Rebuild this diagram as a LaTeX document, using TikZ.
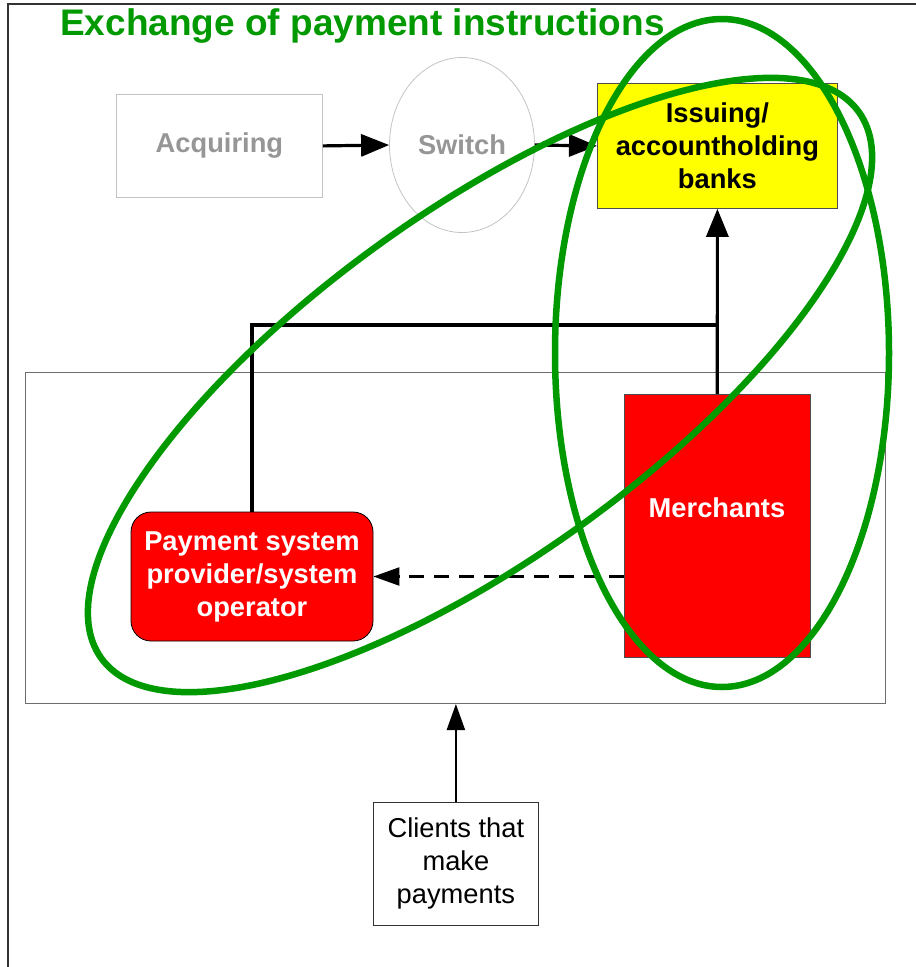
\documentclass[tikz,border=0pt]{standalone}
\usepackage{fontspec}
\setmainfont{Liberation Sans}
\usetikzlibrary{shapes.geometric,arrows.meta}
\definecolor{ringgreen}{RGB}{0,153,0}
\definecolor{dimtext}{RGB}{150,150,150}
\definecolor{dimline}{RGB}{195,195,195}
\definecolor{boxline}{RGB}{110,110,110}
\definecolor{pureyellow}{RGB}{255,255,0}
\definecolor{purered}{RGB}{255,0,0}
\begin{document}
\begin{tikzpicture}[x=1pt,y=-1pt,
  lbl/.style={font=\fontsize{27.3}{33}\selectfont\bfseries, align=center},
  plainlbl/.style={font=\fontsize{27.3}{33}\selectfont, align=center},
  boxnode/.style={draw, inner sep=0pt, anchor=north west},
  bigarrow/.style={line width=3.2pt, -{Triangle[length=28pt,width=22pt]}},
  thinarrow/.style={line width=2.2pt, -{Triangle[length=26pt,width=18pt]}},
  ring/.style={draw=ringgreen, line width=6.5pt}]
\useasboundingbox (0,0) rectangle (916,967);
% outer frame
\draw[line width=1.5pt, draw=black!80] (8,1000) -- (8,4) -- (940,4);
% title
\node[anchor=base west, inner sep=0pt, text=ringgreen, font=\fontsize{37}{42}\selectfont\bfseries] (title) at (60,35) {Exchange of payment instructions};
% top row
\node[boxnode, draw=dimline, line width=0.8pt, minimum width=206pt, minimum height=103pt, text=dimtext, lbl] (acq) at (116,94) {Acquiring};
\node[draw=dimline, line width=0.8pt, ellipse, inner sep=0pt, minimum width=145pt, minimum height=175pt, text=dimtext, lbl] (sw) at (462,145) {Switch};
\node[boxnode, draw=black!70, line width=0.8pt, fill=pureyellow, minimum width=240pt, minimum height=125pt, lbl] (iss) at (597,83) {Issuing/\\accountholding\\banks};
% big container
\node[boxnode, draw=boxline, line width=1pt, minimum width=860pt, minimum height=331pt] (cont) at (25,372) {};
% merchants and provider
\node[boxnode, draw=black!70, line width=0.6pt, fill=purered, minimum width=186pt, minimum height=263pt] (merch) at (624,394) {};
\node[lbl, text=white, inner sep=0pt] (merchtxt) at (717,508) {Merchants};
\node[draw=black, line width=0.8pt, fill=purered, rounded corners=20pt, inner sep=0pt, minimum width=242pt, minimum height=129pt, text=white, lbl] (pay) at (252,576.5) {Payment system\\provider/system\\operator};
% clients
\node[boxnode, draw=black!80, line width=0.8pt, minimum width=165pt, minimum height=123pt, plainlbl] (cli) at (373,802) {Clients that\\make\\payments};
% connectors
\draw[bigarrow] (acq.east) -- (sw.west);
\draw[bigarrow] (sw.east) -- (iss.west);
\coordinate (join) at (717,325);
\draw[line width=3.2pt] (pay.north) |- (join);
\draw[bigarrow] (merch.north) -- (iss.south);
\draw[thinarrow, dash pattern=on 15pt off 10pt] (merch.west |- pay.east) -- (pay.east);
\draw[thinarrow] (cli.north) -- (cli.north |- cont.south);
% green rings
\draw[ring] (722,353) ellipse [x radius=167, y radius=334];
\draw[ring, rotate around={35.8:(480,385)}] (480,385) ellipse [x radius=467, y radius=173];
\end{tikzpicture}
\end{document}
